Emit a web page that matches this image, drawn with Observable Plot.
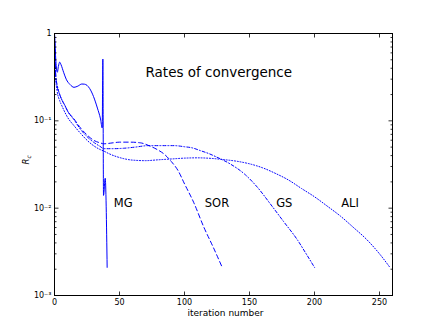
<!DOCTYPE html>
<html><head><meta charset="utf-8">
<script src="https://cdn.jsdelivr.net/npm/d3@7"></script>
<script src="https://cdn.jsdelivr.net/npm/@observablehq/plot@0.6"></script>
<style>body{margin:0;background:#fff;} svg{display:block;}</style>
</head><body><div id="chart"></div>
<script>
// ---- data ----
const mgX = [0, 0.7, 1.5, 2.2, 3, 4, 5, 7, 9, 12, 15, 18, 21, 23, 25, 27, 30, 33, 35.4, 36.7, 37.2, 37.7, 39, 40.5];
const mgY = [1, 0.6, 0.4, 0.36, 0.42, 0.47, 0.44, 0.36, 0.3, 0.26, 0.242, 0.25, 0.264, 0.263, 0.255, 0.235, 0.19, 0.14, 0.105, 0.083, 0.51, 0.014, 0.022, 0.0021];

const sorX = [0, 0.5, 1, 2, 4, 6, 8, 10, 15, 20, 25, 30, 35, 38, 45, 50, 58, 66, 74, 80, 84, 90, 95, 100, 107, 115, 122, 129];
const sorY = [1, 0.5, 0.32, 0.25, 0.2, 0.17, 0.15, 0.13, 0.105, 0.083, 0.069, 0.06, 0.056, 0.0546, 0.056, 0.057, 0.057, 0.056, 0.051, 0.046, 0.042, 0.034, 0.027, 0.019, 0.0117, 0.006, 0.0036, 0.0021];

const gsX = [0, 0.5, 1, 2, 4, 6, 8, 10, 15, 20, 25, 30, 35, 38, 45, 53, 62, 72, 82, 92, 100, 106, 112, 119, 125, 135, 146, 156, 166, 176, 187, 193, 200];
const gsY = [1, 0.5, 0.32, 0.26, 0.2, 0.17, 0.15, 0.13, 0.103, 0.08, 0.066, 0.057, 0.051, 0.048, 0.048, 0.0485, 0.05, 0.052, 0.052, 0.052, 0.0505, 0.049, 0.0457, 0.042, 0.0383, 0.0322, 0.0247, 0.0174, 0.0112, 0.0071, 0.0043, 0.0031, 0.0021];

const aliX = [0, 0.5, 1, 2, 4, 6, 8, 10, 15, 20, 25, 30, 35, 38, 42, 50, 60, 70, 80, 90, 100, 110, 120, 130, 140, 150, 160, 170, 180, 190, 200, 210, 220, 230, 240, 250, 258];
const aliY = [1, 0.45, 0.3, 0.22, 0.17, 0.145, 0.125, 0.11, 0.088, 0.072, 0.06, 0.052, 0.047, 0.045, 0.042, 0.038, 0.0355, 0.035, 0.0358, 0.0366, 0.0374, 0.0377, 0.0372, 0.036, 0.0345, 0.0322, 0.029, 0.025, 0.021, 0.0168, 0.0135, 0.0105, 0.0081, 0.006, 0.0044, 0.003, 0.0021];

const seriesNames = ["MG", "SOR", "GS", "ALI"];
const labelX = [45.6, 115.6, 170.5, 220.5];
const labelY = [0.0115, 0.0115, 0.0115, 0.0115];

const titleText = ["Rates of convergence"];
const titleX = [70];
const titleY = [0.36];

const xTicks = [0, 50, 100, 150, 200, 250];
const yTicks = [0.001, 0.01, 0.1, 1];
const yTickLabels = ["10⁻³", "10⁻²", "10⁻¹", "1"];
const yMinor = [0.002,0.003,0.004,0.005,0.006,0.007,0.008,0.009,
                0.02,0.03,0.04,0.05,0.06,0.07,0.08,0.09,
                0.2,0.3,0.4,0.5,0.6,0.7,0.8,0.9];

// ---- build tables ----
const xs = [mgX, sorX, gsX, aliX];
const ys = [mgY, sorY, gsY, aliY];
const dashes = [null, "4.5,3", "3,2,1,2", "1,1.8"];
const tables = seriesNames.map((n, k) => xs[k].map((x, i) => ({series: n, x, y: ys[k][i]})));
const labels = seriesNames.map((n, i) => ({text: n, x: labelX[i], y: labelY[i]}));
const yLabelMap = new Map(yTicks.map((t, i) => [t, yTickLabels[i]]));

const tick = (dx, dy) => ({draw(ctx) { ctx.moveTo(0, 0); ctx.lineTo(dx, dy); }});
const tickStyle = {stroke: "black", fill: "none", strokeWidth: 0.8};

const chart = Plot.plot({
  width: 436,
  height: 327,
  marginLeft: 54,
  marginRight: 44,
  marginTop: 33,
  marginBottom: 32,
  style: {fontFamily: "DejaVu Sans, sans-serif", fontSize: "8px", background: "white", color: "black"},
  x: {domain: [0, 260], ticks: xTicks, tickSize: 0, tickPadding: 4, label: null},
  y: {type: "log", domain: [0.001, 1], ticks: yTicks, tickFormat: d => yLabelMap.get(d), tickSize: 0, tickPadding: 3, label: null},
  marks: [
    ...tables.map((t, k) => Plot.line(t, {
      x: "x", y: "y", stroke: "#0000ff", strokeWidth: 1,
      strokeDasharray: dashes[k] ?? undefined, curve: "monotone-x"
    })),
    Plot.frame({stroke: "black", strokeWidth: 1}),
    // inward ticks (matplotlib style)
    Plot.dot(xTicks, {x: d => d, frameAnchor: "bottom", symbol: tick(0, -4), ...tickStyle}),
    Plot.dot(xTicks, {x: d => d, frameAnchor: "top", symbol: tick(0, 4), ...tickStyle}),
    Plot.dot(yTicks, {y: d => d, frameAnchor: "left", symbol: tick(4, 0), ...tickStyle}),
    Plot.dot(yTicks, {y: d => d, frameAnchor: "right", symbol: tick(-4, 0), ...tickStyle}),
    Plot.dot(yMinor, {y: d => d, frameAnchor: "left", symbol: tick(2, 0), ...tickStyle}),
    Plot.dot(yMinor, {y: d => d, frameAnchor: "right", symbol: tick(-2, 0), ...tickStyle}),
    // annotations
    Plot.text(labels, {x: "x", y: "y", text: "text", textAnchor: "start", fontSize: 11.5, fill: "black"}),
    Plot.text(titleText, {x: titleX, y: titleY, text: d => d, textAnchor: "start", fontSize: 13.5, fill: "black"}),
    Plot.text(["iteration number"], {frameAnchor: "bottom", dy: 20, dx: 2, fontSize: 9, fill: "black"}),
    Plot.text(["R"], {frameAnchor: "left", dx: -28, rotate: -90, fontSize: 8.5, fontStyle: "italic", fill: "black"})
  ]
});

// subscript for the y label
d3.select(chart).selectAll("text").filter(function() { return this.textContent === "R"; })
  .each(function() {
    d3.select(this).append("tspan").attr("dy", "0.3em").attr("font-size", "6px").attr("font-style", "italic").text("c");
  });

document.getElementById("chart").appendChild(chart);
</script>
</body></html>
